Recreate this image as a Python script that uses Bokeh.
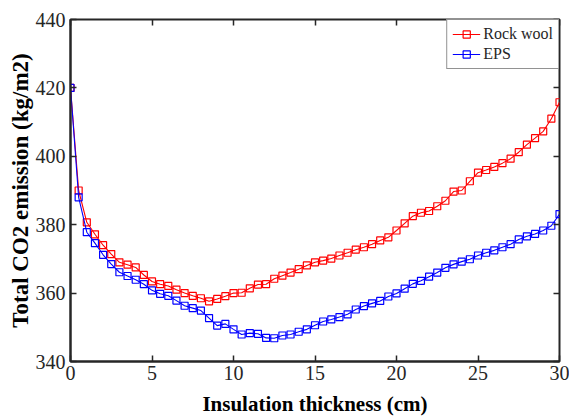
from bokeh.plotting import figure
from bokeh.models import (Range1d, LinearAxis, FixedTicker, Legend, LegendItem,
                          CustomLabelingPolicy)
from bokeh.embed import file_html
from bokeh.resources import INLINE

thickness = [0, 0.5, 1, 1.5, 2, 2.5, 3, 3.5, 4, 4.5, 5, 5.5, 6, 6.5, 7, 7.5, 8, 8.5, 9, 9.5,
             10, 10.5, 11, 11.5, 12, 12.5, 13, 13.5, 14, 14.5, 15, 15.5, 16, 16.5, 17, 17.5,
             18, 18.5, 19, 19.5, 20, 20.5, 21, 21.5, 22, 22.5, 23, 23.5, 24, 24.5, 25, 25.5,
             26, 26.5, 27, 27.5, 28, 28.5, 29, 29.5, 30]

rock_wool = [420, 390, 380.7, 377.2, 374, 371.4, 369, 368.3, 367.5, 365.3, 363.4, 362.6, 362.1,
             361, 360, 359.2, 358.5, 357.6, 358.3, 359.1, 360, 360.1, 361.4, 362.5, 362.6, 364.2,
             365.1, 366, 367, 368.1, 369, 369.5, 370.1, 371, 371.8, 372.7, 373.4, 374.3, 375.4,
             376.3, 378.3, 380.4, 382.5, 383.5, 384, 385.4, 387, 389.7, 390, 392.7, 395.2, 396,
             396.9, 398, 399.3, 401.2, 403.4, 405.3, 407.3, 411, 415.8]

eps = [420, 388, 377.8, 374.6, 371.2, 368.5, 366.1, 365, 363.9, 362.6, 360.8, 359.8, 359.2,
       357.8, 356.3, 355.6, 354.9, 352.7, 350.5, 351, 349.4, 347.9, 348.3, 348.1, 346.9, 346.8,
       347.6, 347.9, 348.7, 349.4, 350.6, 351.7, 352.3, 353, 353.8, 355.2, 356.2, 357, 357.7,
       359, 359.9, 361.3, 362.7, 363.6, 364.8, 366, 367.4, 368.4, 369.2, 369.9, 371, 371.8,
       372.5, 373.4, 374.3, 375.7, 376.6, 377.3, 378.3, 379.7, 383.1]

x_ticks = [0, 5, 10, 15, 20, 25, 30]
y_ticks = [340, 360, 380, 400, 420, 440]

FONT = "Liberation Serif"
DARK = "#262626"

p = figure(width=569, height=418, output_backend="svg", toolbar_location=None,
           x_range=Range1d(0, 30), y_range=Range1d(340, 440),
           min_border_left=70, min_border_right=10, min_border_top=19, min_border_bottom=57)
p.xgrid.visible = False
p.ygrid.visible = False
p.outline_line_color = DARK
p.outline_line_width = 2
p.background_fill_color = "white"
p.border_fill_color = "white"

for ax, ticks in ((p.xaxis[0], x_ticks), (p.yaxis[0], y_ticks)):
    ax.ticker = FixedTicker(ticks=ticks)
    ax.axis_line_color = DARK
    ax.axis_line_width = 2
    ax.major_tick_in = 6
    ax.major_tick_out = 0
    ax.major_tick_line_color = DARK
    ax.major_tick_line_width = 1.5
    ax.minor_tick_line_color = None
    ax.major_label_text_font = FONT
    ax.major_label_text_font_size = "20px"
    ax.major_label_text_color = DARK
    ax.axis_label_text_font = FONT
    ax.axis_label_text_font_style = "bold"
    ax.axis_label_text_color = "black"

p.xaxis.axis_label = "Insulation thickness (cm)"
p.yaxis.axis_label = "Total CO2 emission (kg/m2)"
p.xaxis.axis_label_text_font_size = "21px"
p.yaxis.axis_label_text_font_size = "23px"
p.xaxis.major_label_standoff = 4
p.yaxis.major_label_standoff = 5
p.xaxis.axis_label_standoff = 9
p.yaxis.axis_label_standoff = 0

no_labels = "const a = [...indices]; for (const i of a) indices.unset(i); return indices"
top = LinearAxis(ticker=FixedTicker(ticks=x_ticks),
                 major_label_policy=CustomLabelingPolicy(code=no_labels),
                 major_label_text_font_size="1px",
                 major_tick_in=6, major_tick_out=0, major_tick_line_color=DARK,
                 major_tick_line_width=1.5, minor_tick_line_color=None,
                 axis_line_color=None, major_label_standoff=0)
right = LinearAxis(ticker=FixedTicker(ticks=y_ticks),
                   major_label_policy=CustomLabelingPolicy(code=no_labels),
                   major_label_text_font_size="1px",
                   major_tick_in=6, major_tick_out=0, major_tick_line_color=DARK,
                   major_tick_line_width=1.5, minor_tick_line_color=None,
                   axis_line_color=None, major_label_standoff=0)
p.add_layout(top, "above")
p.add_layout(right, "right")

l1 = p.line(thickness, rock_wool, line_color="#ff0000", line_width=1.1)
s1 = p.scatter(thickness, rock_wool, marker="square", size=7, line_color="#ff0000",
               fill_color=None, line_width=1.2)
l2 = p.line(thickness, eps, line_color="#0000ff", line_width=1.1)
s2 = p.scatter(thickness, eps, marker="square", size=7, line_color="#0000ff",
               fill_color=None, line_width=1.2)

legend = Legend(items=[LegendItem(label="Rock wool", renderers=[l1, s1]),
                       LegendItem(label="EPS", renderers=[l2, s2])],
                location="top_right", margin=0, padding=5, spacing=2,
                glyph_width=28, glyph_height=18, label_standoff=3,
                label_text_font=FONT, label_text_font_size="16px",
                label_text_color=DARK, border_line_color=DARK, border_line_width=1,
                background_fill_color="white", background_fill_alpha=1)
p.add_layout(legend)

open("out.html", "w").write(file_html(p, INLINE))
